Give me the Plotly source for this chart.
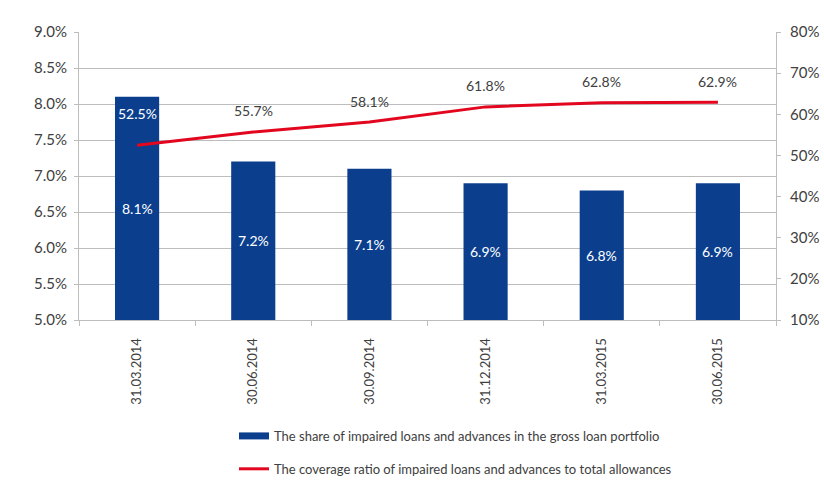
import plotly.graph_objects as go

# Reporting dates
dates = ["31.03.2014", "30.06.2014", "30.09.2014", "31.12.2014", "31.03.2015", "30.06.2015"]
# Share of impaired loans and advances in the gross loan portfolio, %
impaired_share = [8.1, 7.2, 7.1, 6.9, 6.8, 6.9]
# Coverage ratio of impaired loans and advances to total allowances, %
coverage_ratio = [52.5, 55.7, 58.1, 61.8, 62.8, 62.9]

left_ticks = [5.0, 5.5, 6.0, 6.5, 7.0, 7.5, 8.0, 8.5, 9.0]
right_ticks = [10, 20, 30, 40, 50, 60, 70, 80]

bar_name = "The share of impaired loans and advances in the gross loan portfolio"
line_name = "The coverage ratio of impaired loans and advances to total allowances"

BLUE = "#0b3f8e"
RED = "#e3061f"
TEXT = "#404040"
GRID = "#bdbdbd"
FONT = "Lato, Open Sans, sans-serif"
Y_MIN, Y_MAX = 5.0, 9.0

fig = go.Figure()

fig.add_trace(go.Bar(
    x=dates, y=impaired_share, name=bar_name,
    marker=dict(color=BLUE, line=dict(width=0)),
    width=0.38,
    showlegend=False,
))

fig.add_trace(go.Scatter(
    x=dates, y=coverage_ratio, name=line_name, yaxis="y2",
    mode="lines", line=dict(color=RED, width=3),
    showlegend=False,
))

# Legend entries drawn as wide strokes
fig.add_trace(go.Scatter(
    x=[None], y=[None], name=bar_name, mode="lines",
    line=dict(color=BLUE, width=7), legendgroup="a",
))
fig.add_trace(go.Scatter(
    x=[None], y=[None], name=line_name, mode="lines",
    line=dict(color=RED, width=3), legendgroup="b",
))

# Bar value labels, centred in the visible part of each bar
for d, v in zip(dates, impaired_share):
    fig.add_annotation(
        x=d, y=(Y_MIN + v) / 2, xref="x", yref="y", text=f"{v:.1f}%",
        showarrow=False, font=dict(color="white", size=14, family=FONT),
    )

# Line value labels
for i, (d, v) in enumerate(zip(dates, coverage_ratio)):
    fig.add_annotation(
        x=d, y=v, xref="x", yref="y2", text=f"{v:.1f}%",
        showarrow=False, yshift=32 if i == 0 else 21,
        font=dict(color="white" if i == 0 else TEXT, size=14, family=FONT),
    )

fig.update_layout(
    width=824, height=480,
    margin=dict(l=79, r=48, t=32, b=160, autoexpand=False),
    paper_bgcolor="white", plot_bgcolor="white",
    font=dict(family=FONT, color=TEXT),
    xaxis=dict(
        type="category", tickangle=-90, tickfont=dict(size=13, color=TEXT),
        showline=True, linecolor=GRID, linewidth=1,
        ticks="outside", tickson="boundaries", ticklen=5, tickcolor=GRID,
        ticklabelstandoff=12,
        showgrid=False,
    ),
    yaxis=dict(
        range=[Y_MIN, Y_MAX], tickvals=left_ticks,
        ticktext=[f"{t:.1f}%" for t in left_ticks],
        tickfont=dict(size=15, color=TEXT),
        showgrid=True, gridcolor=GRID, gridwidth=1,
        showline=True, linecolor=GRID, linewidth=1,
        ticks="outside", ticklen=4, tickcolor=GRID,
        ticklabelstandoff=4,
        zeroline=False,
    ),
    yaxis2=dict(
        range=[10, 80], tickvals=right_ticks,
        ticktext=[f"{t}%" for t in right_ticks],
        tickfont=dict(size=15, color=TEXT),
        overlaying="y", side="right", showgrid=False,
        showline=True, linecolor=GRID, linewidth=1,
        ticks="outside", ticklen=4, tickcolor=GRID,
        ticklabelstandoff=6,
        zeroline=False,
    ),
    legend=dict(
        xref="container", yref="container",
        x=0.284, xanchor="left", y=0.123, yanchor="top",
        font=dict(size=13, color=TEXT, family=FONT),
        tracegroupgap=13, bgcolor="rgba(0,0,0,0)",
    ),
)

fig.write_html("out.html")
